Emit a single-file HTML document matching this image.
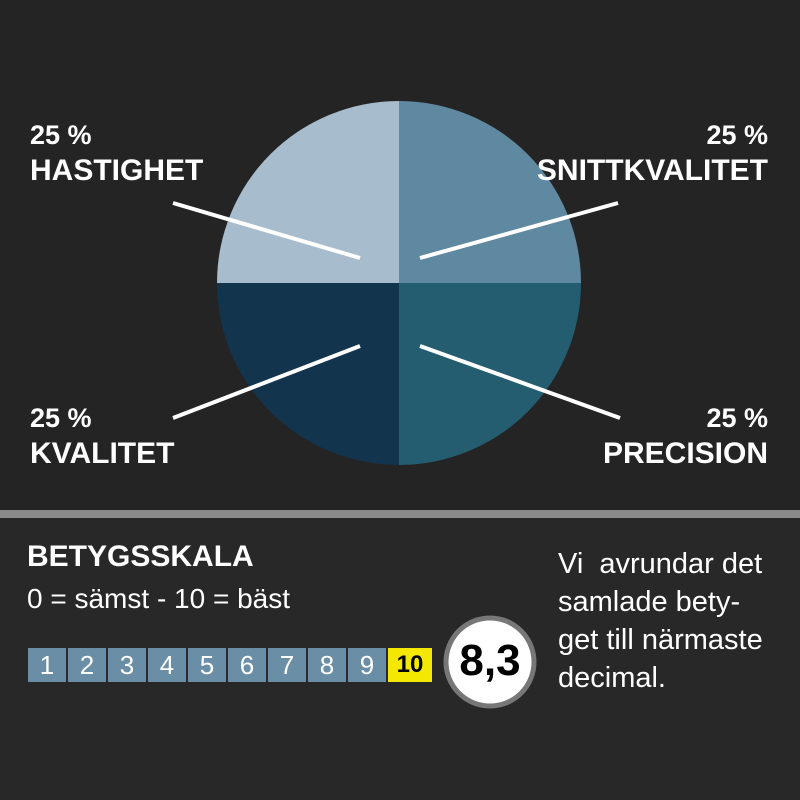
<!DOCTYPE html>
<html><head><meta charset="utf-8"><style>
html,body{margin:0;padding:0}
body{width:800px;height:800px;background:#282828;position:relative;overflow:hidden;font-family:"Liberation Sans",sans-serif;color:#fff}
.t{position:absolute;font-weight:bold;white-space:nowrap}
.box{position:absolute;top:648px;width:38px;height:34px;background:#6a8ea5;color:#fff;font-size:26px;text-align:center;line-height:34px}
</style></head><body>
<div style="position:absolute;left:0;top:0;width:800px;height:510px;background:#242424"></div>
<div style="position:absolute;left:0;top:510px;width:800px;height:8px;background:#8a8a8a"></div>
<svg width="800" height="800" style="position:absolute;left:0;top:0">
<path d="M399,283 L399,101 A182,182 0 0 1 581,283 Z" fill="#5f88a1"/>
<path d="M399,283 L581,283 A182,182 0 0 1 399,465 Z" fill="#245d70"/>
<path d="M399,283 L399,465 A182,182 0 0 1 217,283 Z" fill="#12344d"/>
<path d="M399,283 L217,283 A182,182 0 0 1 399,101 Z" fill="#a7bccd"/>
<g stroke="#fff" stroke-width="4">
<line x1="173" y1="203" x2="360" y2="258"/>
<line x1="420" y1="258" x2="618" y2="203"/>
<line x1="173" y1="418" x2="360" y2="346"/>
<line x1="420" y1="346" x2="620" y2="418"/>
</g>
<circle cx="490" cy="662" r="44" fill="#fff" stroke="#777" stroke-width="5"/>
</svg>
<div class="t" style="left:30px;top:120px;font-size:27px">25 %</div>
<div class="t" style="left:30px;top:154px;font-size:30px">HASTIGHET</div>
<div class="t" style="right:32px;top:120px;font-size:27px">25 %</div>
<div class="t" style="right:32px;top:154px;font-size:30px">SNITTKVALITET</div>
<div class="t" style="left:30px;top:403px;font-size:27px">25 %</div>
<div class="t" style="left:30px;top:437px;font-size:30px">KVALITET</div>
<div class="t" style="right:32px;top:403px;font-size:27px">25 %</div>
<div class="t" style="right:32px;top:437px;font-size:30px">PRECISION</div>
<div class="t" style="left:27px;top:540px;font-size:30px">BETYGSSKALA</div>
<div style="position:absolute;left:27px;top:583px;font-size:28px">0 = sämst - 10 = bäst</div>
<div class="box" style="left:28px">1</div><div class="box" style="left:68px">2</div><div class="box" style="left:108px">3</div><div class="box" style="left:148px">4</div><div class="box" style="left:188px">5</div><div class="box" style="left:228px">6</div><div class="box" style="left:268px">7</div><div class="box" style="left:308px">8</div><div class="box" style="left:348px">9</div>
<div class="box" style="left:388px;width:44px;background:#f5e800;color:#000;font-weight:bold;font-size:24px">10</div>
<div class="t" style="left:446px;top:636px;width:88px;text-align:center;color:#000;font-size:44px">8,3</div>
<div style="position:absolute;left:558px;top:545px;font-size:29px;line-height:38px">Vi&nbsp; avrundar det<br>samlade bety-<br>get till närmaste<br>decimal.</div>
</body></html>
